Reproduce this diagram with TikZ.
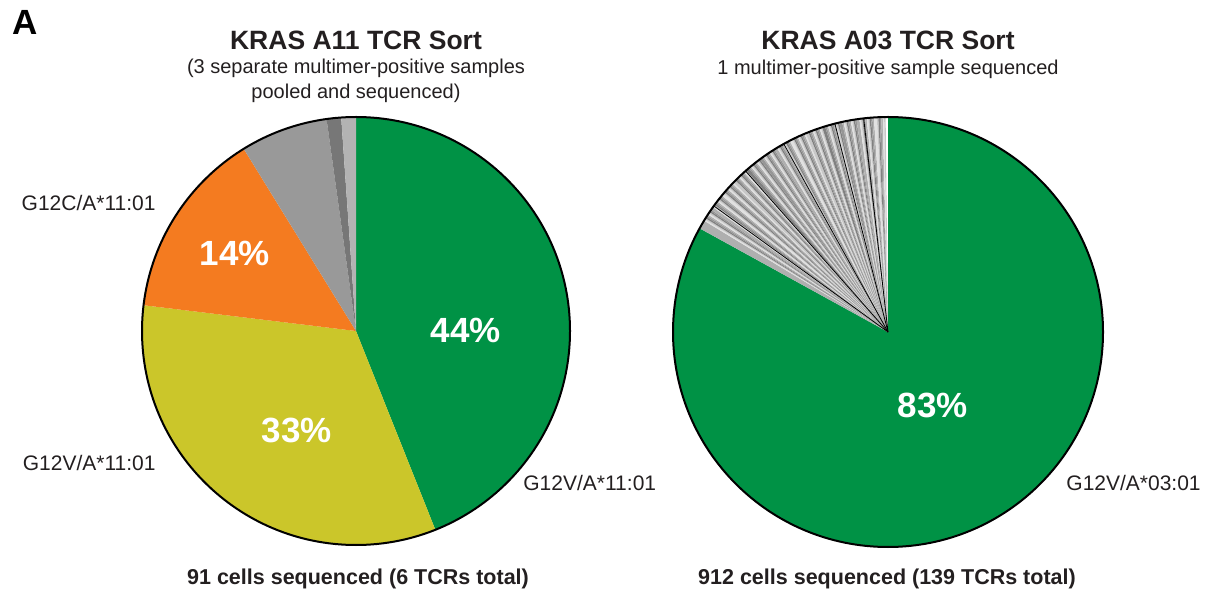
\documentclass[tikz,border=0pt]{standalone}
\usepackage{fontspec}
\setmainfont{Liberation Sans}
\definecolor{tcrgreen}{RGB}{0,146,69}
\definecolor{tcryellow}{RGB}{203,198,42}
\definecolor{tcrorange}{RGB}{244,123,32}
\definecolor{tcrgrayA}{RGB}{153,153,153}
\definecolor{tcrgrayB}{RGB}{119,119,119}
\definecolor{tcrgrayC}{RGB}{179,179,179}
\definecolor{tcrgray0}{RGB}{200,200,200}
\definecolor{tcrgray1}{RGB}{150,150,150}
\definecolor{tcrgray2}{RGB}{225,225,225}
\definecolor{tcrgray3}{RGB}{128,128,128}
\definecolor{tcrgray4}{RGB}{175,175,175}
\definecolor{txt}{RGB}{35,31,32}
\tikzset{
  ttl/.style={inner sep=0pt,text=txt,font=\fontsize{13.25}{15}\selectfont\bfseries},
  sub/.style={inner sep=0pt,text=txt,align=center,font=\fontsize{10}{12.5}\selectfont},
  lbl/.style={inner sep=0pt,text=txt,font=\fontsize{10.5}{12}\selectfont},
  foot/.style={inner sep=0pt,text=txt,font=\fontsize{10.75}{12}\selectfont\bfseries},
  pct/.style={inner sep=0pt,text=white,font=\fontsize{17.5}{20}\selectfont\bfseries},
}

\begin{document}
\begin{tikzpicture}[x=0.5pt,y=0.5pt]
        \useasboundingbox (0,0) rectangle (1208,594);

        % Panel letter
        \node[inner sep=0pt,font=\fontsize{17.5}{20}\selectfont\bfseries] (panel) at (25,572) {A};

        % Titles
        \node[ttl] (titleL) at (356,554) {KRAS A11 TCR Sort};
        \node[sub] (subL) at (356,513) {(3 separate multimer-positive samples\\pooled and sequenced)};
        \node[ttl] (titleR) at (888,554) {KRAS A03 TCR Sort};
        \node[sub] (subR) at (888,525) {1 multimer-positive sample sequenced};

        % A11 pie (91 cells: 40, 30, 13, 6, 1, 1)
        \coordinate (L) at (356,263);
        \foreach \a/\b/\c in {-68.24/90/tcrgreen, -186.92/-68.24/tcryellow, -238.35/-186.92/tcrorange,
                              -262.09/-238.35/tcrgrayA, -266.04/-262.09/tcrgrayB, -270/-266.04/tcrgrayC}
          \fill[\c] (L) -- ++(\a:214) arc[start angle=\a, end angle=\b, radius=214] -- cycle;
        \draw[line width=1pt] (L) circle[radius=214];

        % A03 pie (912 cells, 757 in one TCR, 138 small ones)
        \coordinate (R) at (888,262);
        \fill[tcrgreen] (R) -- ++(90:215) arc[start angle=90, end angle=-208.816, radius=215] -- cycle;
        \pgfmathsetmacro{\curang}{90+155/912*360}
        \xdef\curang{\curang}
        \foreach \i in {1,...,138}{
          \pgfmathsetmacro{\n}{\i==1 ? 6 : (mod(\i,11)==0 ? 2 : 1)}
          \pgfmathsetmacro{\e}{\curang-\n/912*360}
          \pgfmathtruncatemacro{\k}{mod(\i*3+1,5)}
          \fill[tcrgray\k] (R) -- ++(\curang:215) arc[start angle=\curang, end angle=\e, radius=215] -- cycle;
          \xdef\curang{\e}
        }
        \foreach \a in {144.1,131.5,119,104.3,96.5}
          \draw[line width=0.4pt] (R) -- ++(\a:215);
        \draw[line width=1pt] (R) circle[radius=215];

        % Percentages
        \node[pct] (p44) at (466,264) {44\%};
        \node[pct] (p33) at (297,164) {33\%};
        \node[pct] (p14) at (235,341) {14\%};
        \node[pct] (p83) at (933,189) {83\%};

        % Labels
        \node[lbl,anchor=east] (labC) at (156,391) {G12C/A*11:01};
        \node[lbl,anchor=east] (labY) at (156,131) {G12V/A*11:01};
        \node[lbl,anchor=west] (labG) at (523,111) {G12V/A*11:01};
        \node[lbl,anchor=west] (labR) at (1066,111) {G12V/A*03:01};

        % Totals
        \node[foot] (totL) at (358,15) {91 cells sequenced (6 TCRs total)};
        \node[foot] (totR) at (887,15) {912 cells sequenced (139 TCRs total)};
      \end{tikzpicture}
\end{document}
